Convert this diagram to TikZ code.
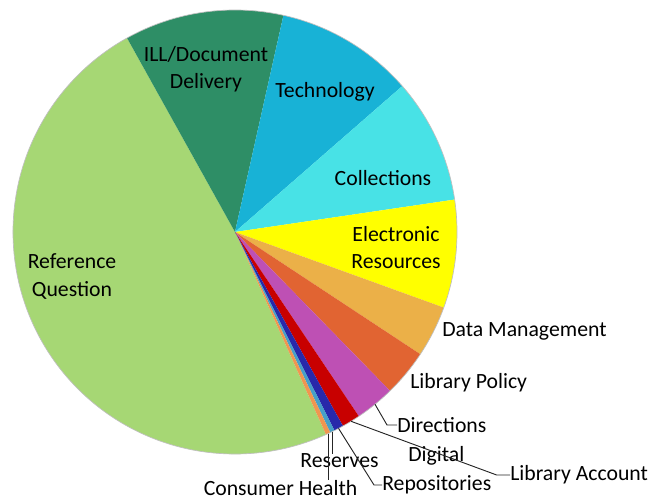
\documentclass[tikz,border=0pt]{standalone}
\usepackage{fontspec}
\setmainfont{Carlito}
\definecolor{refgreen}{RGB}{166,215,116}
\definecolor{illgreen}{RGB}{46,142,102}
\definecolor{techblue}{RGB}{24,178,214}
\definecolor{collcyan}{RGB}{72,226,230}
\definecolor{elecyellow}{RGB}{255,255,0}
\definecolor{dmgold}{RGB}{235,176,72}
\definecolor{lporange}{RGB}{225,100,50}
\definecolor{dirmagenta}{RGB}{190,80,180}
\definecolor{accred}{RGB}{200,0,0}
\definecolor{repoblue}{RGB}{40,40,170}
\definecolor{resteal}{RGB}{70,160,200}
\definecolor{chorange}{RGB}{240,150,80}
\begin{document}
\begin{tikzpicture}[x=0.75pt,y=0.75pt,
    lbl/.style={font=\fontsize{16.3}{20.3}\selectfont,inner sep=0pt,align=center},
    leader/.style={draw=black!85,line width=0.7pt}]
  \useasboundingbox (0,0) rectangle (655,500);
  \coordinate (c) at (235,268);
  % slices
  \fill[refgreen] (c) -- ++(-65.8:222) arc[start angle=-65.8,end angle=-240.9,radius=222] -- cycle;
  \fill[illgreen] (c) -- ++(119.1:222) arc[start angle=119.1,end angle=77.4,radius=222] -- cycle;
  \fill[techblue] (c) -- ++(77.4:222) arc[start angle=77.4,end angle=41.1,radius=222] -- cycle;
  \fill[collcyan] (c) -- ++(41.1:222) arc[start angle=41.1,end angle=8.4,radius=222] -- cycle;
  \fill[elecyellow] (c) -- ++(8.4:222) arc[start angle=8.4,end angle=-19.9,radius=222] -- cycle;
  \fill[dmgold] (c) -- ++(-19.9:222) arc[start angle=-19.9,end angle=-33.4,radius=222] -- cycle;
  \fill[lporange] (c) -- ++(-33.4:222) arc[start angle=-33.4,end angle=-45.7,radius=222] -- cycle;
  \fill[dirmagenta] (c) -- ++(-45.7:222) arc[start angle=-45.7,end angle=-56.1,radius=222] -- cycle;
  \fill[accred] (c) -- ++(-56.1:222) arc[start angle=-56.1,end angle=-60.9,radius=222] -- cycle;
  \fill[repoblue] (c) -- ++(-60.9:222) arc[start angle=-60.9,end angle=-63.4,radius=222] -- cycle;
  \fill[resteal] (c) -- ++(-63.4:222) arc[start angle=-63.4,end angle=-64.6,radius=222] -- cycle;
  \fill[chorange] (c) -- ++(-64.6:222) arc[start angle=-64.6,end angle=-65.8,radius=222] -- cycle;
  \draw[black!25,line width=0.5pt] (c) circle[radius=222];
  % labels
  \node[lbl] (ill) at (206,430.5) {ILL/Document\\Delivery};
  \node[lbl] (tech) at (325,408) {Technology};
  \node[lbl] (coll) at (383,322) {Collections};
  \node[lbl] (elec) at (396,252.5) {Electronic\\Resources};
  \node[lbl] (ref) at (72,223.5) {Reference\\Question};
  \node[lbl,anchor=west] (dm) at (442,169) {Data Management};
  \node[lbl,anchor=west] (lp) at (410,117) {Library Policy};
  \node[lbl,anchor=west] (dir) at (397,75) {Directions};
  \node[lbl,anchor=west] (dig) at (408,44) {Digital};
  \node[lbl,anchor=west] (acc) at (510,25) {Library Account};
  \node[lbl,anchor=west] (repo) at (382,15) {Repositories};
  \node[lbl] (res) at (339.5,39) {Reserves};
  \node[lbl] (cons) at (280.5,12) {Consumer Health};
  % leader lines
  \path (c) ++(-50.9:222) coordinate (dirpt);
  \path (c) ++(-58.5:222) coordinate (accpt);
  \path (c) ++(-62.2:222) coordinate (repopt);
  \path (c) ++(-64.0:222) coordinate (respt);
  \path (c) ++(-65.2:222) coordinate (conspt);
  \draw[leader] (dirpt) -- ([xshift=-7.5pt]dir.west) -- (dir.west);
  \draw[leader] (accpt) -- ([xshift=-10pt]acc.west) -- (acc.west);
  \draw[leader] (repopt) -- ([xshift=-6pt]repo.west) -- (repo.west);
  \draw[leader] (respt) -- (respt |- res.north);
  \draw[leader] (conspt) -- (conspt |- cons.north);
\end{tikzpicture}
\end{document}
